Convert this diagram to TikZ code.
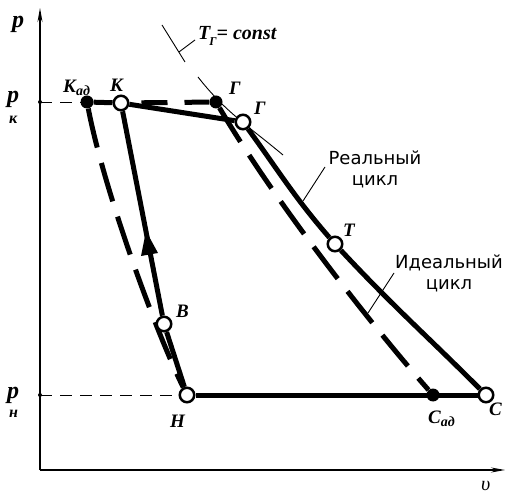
\documentclass[tikz,border=0pt]{standalone}
\usepackage{fontspec}
\setmainfont{Liberation Serif}
\newfontfamily\sanslbl{DejaVu Sans}
\usetikzlibrary{arrows.meta,backgrounds}
\begin{document}
\begin{tikzpicture}[x=1pt,y=-1pt,
  opendot/.style={circle,draw=black,fill=white,line width=2.5pt,minimum size=14.5pt,inner sep=0pt},
  fulldot/.style={circle,fill=black,minimum size=13pt,inner sep=0pt},
  thickline/.style={line width=5pt},
  idealline/.style={line width=5pt,dash pattern=on 40pt off 16pt},
  idealflat/.style={line width=5pt,dash pattern=on 26pt off 17pt,dash phase=31pt},
  thinline/.style={line width=0.9pt},
  axisline/.style={line width=1.1pt,-{Stealth[length=14pt,width=5pt]}},
  guide/.style={line width=0.9pt,dash pattern=on 12pt off 8pt},
  ptlbl/.style={font=\fontsize{19}{19}\selectfont\bfseries\itshape,inner sep=0pt,anchor=base west},
  plbl/.style={font=\fontsize{24}{24}\selectfont\bfseries\itshape,inner sep=0pt,anchor=base west},
  cyclbl/.style={font=\sanslbl\fontsize{18}{21}\selectfont,align=center,inner sep=0pt},
]
\useasboundingbox (0,0) rectangle (506,494);
% axes
\coordinate (O) at (40,470);
\coordinate (Ytop) at (40,8);
\coordinate (Xend) at (505,470);
\draw[axisline] (O) -- (Ytop);
\draw[axisline] (O) -- (Xend);
\coordinate (pk) at (40,102);
\coordinate (pn) at (40,395);
\fill (pk) circle (2);
\fill (pn) circle (2);
% points
\node[fulldot] (Kad) at (87,102) {};
\node[opendot] (K) at (121,103) {};
\node[fulldot] (G1) at (216,102) {};
\node[opendot] (G2) at (243,122) {};
\node[opendot] (T) at (335,244) {};
\node[opendot] (B) at (164,324) {};
\node[opendot] (H) at (187,395) {};
\node[fulldot] (Cad) at (433,395) {};
\node[opendot] (C) at (486,395) {};
% isotherm
\coordinate (isoA) at (162,25);
\coordinate (isoB) at (185,62);
\coordinate (isoC) at (198,77);
\coordinate (isoD) at (283,155);
\coordinate (ldT1) at (179,52);
\coordinate (ldT2) at (195,40);
% leaders
\coordinate (ldR1) at (303,201);
\coordinate (ldR2) at (325,167);
\coordinate (ldI1) at (368,313);
\coordinate (ldI2) at (394,273);
% arrowhead on B-K
\coordinate (arTip) at (146,231);
\coordinate (arL) at (158,253);
\coordinate (arR) at (141,256);
\begin{scope}[on background layer]
  \draw[guide] (pk) -- (Kad);
  \draw[guide] (pn) -- (H);
  \draw[thinline] (isoA) -- (isoB);
  \draw[thinline] (ldT1) -- (ldT2);
  \draw[thinline] (isoC) to[out=-52,in=140] (isoD);
  \draw[thinline] (ldR1) -- (ldR2);
  \draw[thinline] (ldI1) -- (ldI2);
  % ideal cycle
  \draw[thickline] (Kad) -- (K);
  \draw[idealflat] (K) -- (G1);
  \draw[idealline] (G1) .. controls (280,210) and (380,335) .. (Cad);
  \draw[idealline] (Kad) .. controls (104,190) and (155,330) .. (H);
  % real cycle
  \draw[thickline] (K) -- (G2);
  \draw[thickline] (G2) to[out=-54,in=131] (T) to[out=-47,in=135] (C);
  \draw[thickline] (C) -- (H);
  \draw[thickline] (H) -- (B);
  \draw[thickline] (B) -- (K);
  \fill (arTip) -- (arL) -- (arR) -- cycle;
\end{scope}
% labels
\node[plbl] (lp) at (12,28) {p};
\node[plbl] (lpk) at (7,103) {p\kern-10pt\raisebox{-21pt}{\fontsize{16}{16}\selectfont к}};
\node[plbl] (lpn) at (7,398) {p\kern-10pt\raisebox{-19pt}{\fontsize{16}{16}\selectfont н}};
\node[font=\fontsize{20}{20}\selectfont\itshape,inner sep=0pt,anchor=base west] (lv) at (481,490) {υ};
\node[ptlbl] (lKad) at (63,93) {К\raisebox{-3pt}{\fontsize{14}{14}\selectfont ад}};
\node[ptlbl] (lK) at (110,92) {К};
\node[ptlbl] (lG1) at (229,95) {Г};
\node[ptlbl] (lG2) at (254,115) {Г};
\node[ptlbl] (lT) at (343,237) {Т};
\node[ptlbl] (lB) at (176,318) {В};
\node[ptlbl] (lH) at (170,427) {Н};
\node[ptlbl] (lCad) at (428,423) {С\raisebox{-3pt}{\fontsize{14}{14}\selectfont ад}};
\node[ptlbl] (lC) at (489,415) {С};
\node[font=\fontsize{20}{20}\selectfont\bfseries\itshape,inner sep=0pt,anchor=base west] (lTG) at (198,40) {T\kern-1pt\raisebox{-6pt}{\fontsize{12}{12}\selectfont Г}= const};
\node[cyclbl] (lReal) at (375,169) {Реальный\\цикл};
\node[cyclbl] (lIdeal) at (449,273) {Идеальный\\цикл};
\end{tikzpicture}
\end{document}
